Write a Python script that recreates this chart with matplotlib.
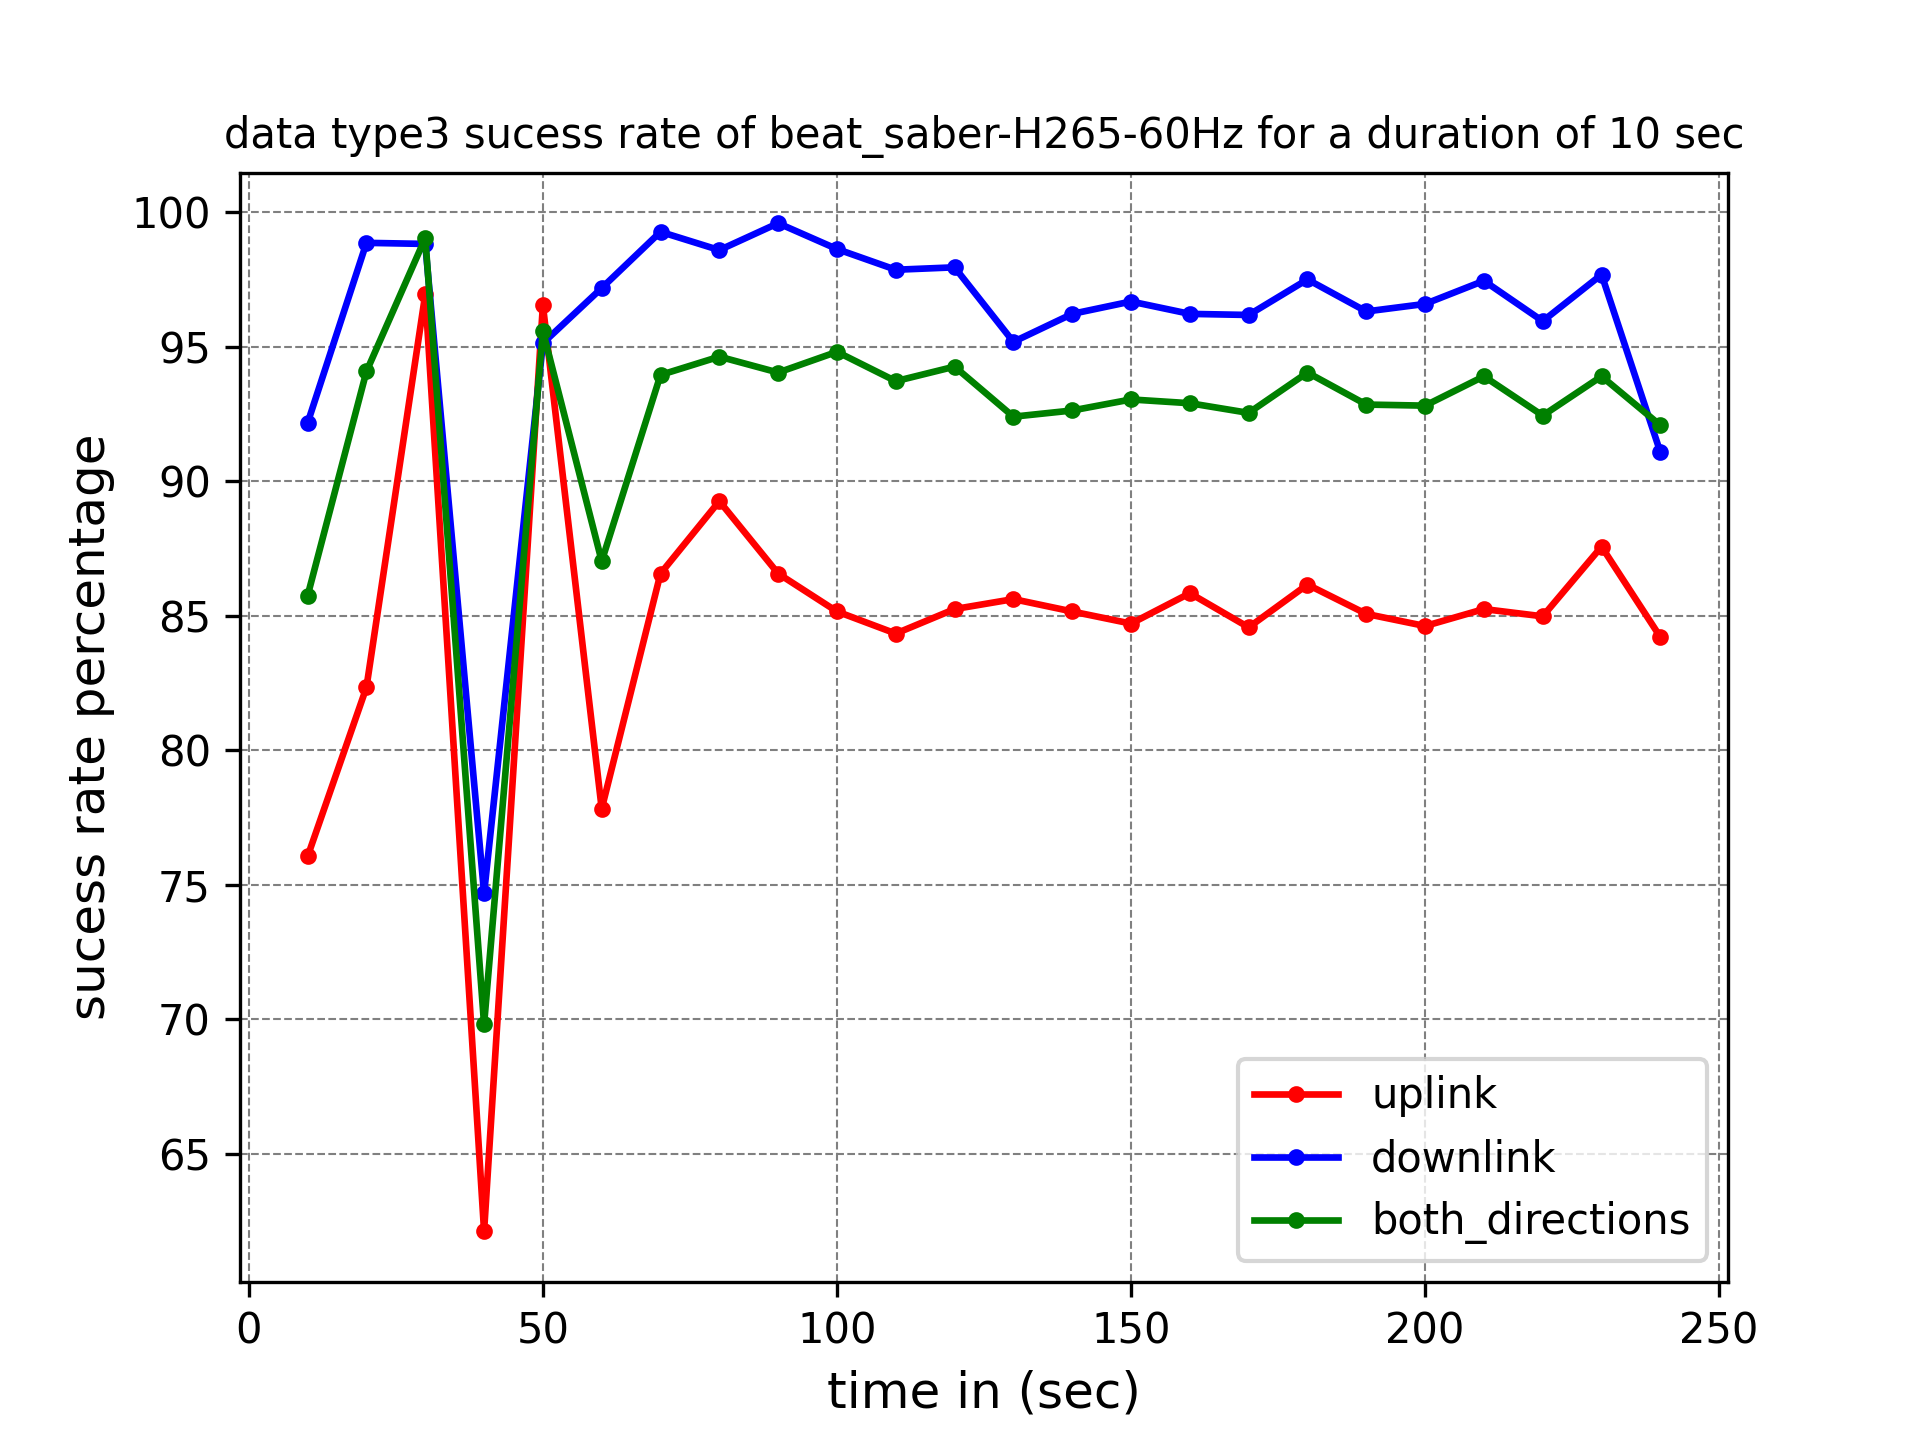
import matplotlib
matplotlib.use("Agg")
import matplotlib.pyplot as plt

time = [10, 20, 30, 40, 50, 60, 70, 80, 90, 100, 110, 120, 130, 140, 150, 160,
        170, 180, 190, 200, 210, 220, 230, 240]
uplink = [76.06, 82.34, 96.95, 62.13, 96.54, 77.83, 86.57, 89.26, 86.57, 85.16,
          84.34, 85.25, 85.62, 85.16, 84.71, 85.84, 84.57, 86.16, 85.07, 84.62,
          85.25, 84.98, 87.57, 84.21]
downlink = [92.17, 98.86, 98.82, 74.69, 95.13, 97.18, 99.27, 98.59, 99.59, 98.63,
            97.86, 97.95, 95.18, 96.22, 96.68, 96.22, 96.18, 97.50, 96.31, 96.59,
            97.45, 95.95, 97.68, 91.08]
both = [85.75, 94.08, 99.04, 69.82, 95.58, 87.03, 93.95, 94.63, 94.04, 94.81,
        93.72, 94.26, 92.40, 92.63, 93.04, 92.90, 92.54, 94.04, 92.85, 92.81,
        93.90, 92.44, 93.90, 92.08]

fig, ax = plt.subplots(figsize=(6.4, 4.8), dpi=300)
ax.plot(time, uplink, color="red", marker="o", markersize=3, linewidth=1.6, label="uplink")
ax.plot(time, downlink, color="blue", marker="o", markersize=3, linewidth=1.6, label="downlink")
ax.plot(time, both, color="green", marker="o", markersize=3, linewidth=1.6, label="both_directions")
ax.grid(True, linestyle="--", color="gray", linewidth=0.5)
ax.set_title("data type3 sucess rate of beat_saber-H265-60Hz for a duration of 10 sec", fontsize=10)
ax.set_xlabel("time in (sec)", fontsize=12)
ax.set_ylabel("sucess rate percentage", fontsize=12)
ax.legend(loc="lower right", fontsize=10)
fig.savefig("out.png", dpi=300)
